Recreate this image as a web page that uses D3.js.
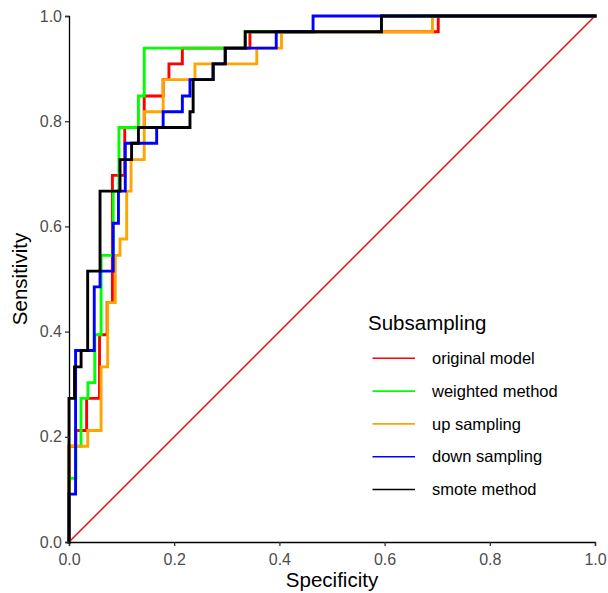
<!DOCTYPE html>
<html>
<head>
<meta charset="utf-8">
<script src="https://cdn.jsdelivr.net/npm/d3@7"></script>
<style>
  html, body { margin: 0; padding: 0; background: #fff; }
  svg { display: block; font-family: "Liberation Sans", Arial, sans-serif; }
  .tick-label { fill: #4d4d4d; font-size: 16px; }
  .axis-title { fill: #000; font-size: 20.5px; }
  .legend-title { fill: #000; font-size: 20.5px; }
  .legend-label { fill: #000; font-size: 16.5px; }
</style>
</head>
<body>
<svg id="chart" width="608" height="593"></svg>
<script>
  // ROC steps: specificity axis (x) and sensitivity (y)
  const seriesNames = ["original model", "weighted method", "up sampling", "down sampling", "smote method"];
  const seriesColors = ["#ff0000", "#00ff00", "#ffa500", "#0000ff", "#000000"];

  const originalSpec = [0, 0, 0.013, 0.0335, 0.058, 0.0725, 0.0825, 0.106, 0.143, 0.179, 0.19, 0.2155, 0.344, 0.702, 1];
  const originalSens = [0, 0.182, 0.212, 0.273, 0.394, 0.455, 0.697, 0.788, 0.848, 0.879, 0.909, 0.939, 0.970, 1, 1];

  const weightedSpec = [0, 0, 0.013, 0.0228, 0.036, 0.049, 0.061, 0.084, 0.095, 0.132, 0.143, 0.335, 0.594, 1];
  const weightedSens = [0, 0.121, 0.182, 0.273, 0.303, 0.394, 0.545, 0.667, 0.788, 0.848, 0.939, 0.970, 1, 1];

  const upSpec = [0, 0, 0.0356, 0.061, 0.0735, 0.088, 0.097, 0.1097, 0.118, 0.143, 0.179, 0.2395, 0.357, 0.404, 0.691, 1];
  const upSens = [0, 0.182, 0.212, 0.333, 0.455, 0.545, 0.576, 0.667, 0.727, 0.818, 0.879, 0.909, 0.939, 0.970, 1, 1];

  const downSpec = [0, 0, 0.0125, 0.048, 0.059, 0.084, 0.094, 0.107, 0.1667, 0.179, 0.2155, 0.23, 0.274, 0.297, 0.394, 0.464, 1];
  const downSens = [0, 0.091, 0.364, 0.485, 0.515, 0.606, 0.667, 0.758, 0.788, 0.818, 0.848, 0.879, 0.909, 0.939, 0.970, 1, 1];

  const smoteSpec = [0, 0, 0.0105, 0.023, 0.0355, 0.059, 0.097, 0.119, 0.132, 0.230, 0.236, 0.274, 0.297, 0.335, 0.594, 1];
  const smoteSens = [0, 0.273, 0.333, 0.364, 0.515, 0.667, 0.727, 0.758, 0.788, 0.818, 0.879, 0.909, 0.939, 0.970, 1, 1];

  const tickValues = [0, 0.2, 0.4, 0.6, 0.8, 1.0];

  const specs = [originalSpec, weightedSpec, upSpec, downSpec, smoteSpec];
  const senss = [originalSens, weightedSens, upSens, downSens, smoteSens];

  const svg = d3.select("#chart");
  const x = d3.scaleLinear().domain([0, 1]).range([69, 595]);
  const y = d3.scaleLinear().domain([0, 1]).range([542, 16]);

  // reference diagonal
  svg.append("line")
    .attr("x1", x(0)).attr("y1", y(0))
    .attr("x2", x(1)).attr("y2", y(1))
    .attr("stroke", "#ff0000")
    .attr("stroke-width", 1.4);

  const line = d3.line()
    .x((d) => x(d[0]))
    .y((d) => y(d[1]))
    .curve(d3.curveStepAfter);

  const curves = seriesNames.map((name, i) => ({
    name,
    color: seriesColors[i],
    points: specs[i].map((s, j) => [s, senss[i][j]])
  }));

  svg.append("g")
    .selectAll("path")
    .data(curves)
    .join("path")
    .attr("d", (d) => line(d.points))
    .attr("fill", "none")
    .attr("stroke", (d) => d.color)
    .attr("stroke-width", 2.9)
    .attr("stroke-linejoin", "miter")
    .attr("stroke-linecap", "square");

  // axes
  const xAxis = svg.append("g")
    .attr("transform", `translate(0,${y(0)})`)
    .call(d3.axisBottom(x).tickValues(tickValues).tickFormat(d3.format(".1f")).tickSizeOuter(0).tickSize(4).tickPadding(4));
  const yAxis = svg.append("g")
    .attr("transform", `translate(${x(0)},0)`)
    .call(d3.axisLeft(y).tickValues(tickValues).tickFormat(d3.format(".1f")).tickSizeOuter(0).tickSize(4).tickPadding(3));

  [xAxis, yAxis].forEach((ax) => {
    ax.attr("font-family", null).attr("font-size", null);
    ax.select(".domain").attr("stroke", "#000").attr("stroke-width", 1.3);
    ax.selectAll(".tick line").attr("stroke", "#333").attr("stroke-width", 1.3);
    ax.selectAll(".tick text").attr("class", "tick-label").attr("fill", null);
  });
  xAxis.selectAll(".tick text").attr("dy", "0.95em");

  svg.append("text")
    .attr("class", "axis-title")
    .attr("x", (x(0) + x(1)) / 2)
    .attr("y", 587)
    .attr("text-anchor", "middle")
    .text("Specificity");

  svg.append("text")
    .attr("class", "axis-title")
    .attr("transform", `translate(27,${(y(0) + y(1)) / 2}) rotate(-90)`)
    .attr("text-anchor", "middle")
    .text("Sensitivity");

  // legend
  const legend = svg.append("g").attr("transform", "translate(368,0)");
  legend.append("text")
    .attr("class", "legend-title")
    .attr("x", 0)
    .attr("y", 330)
    .text("Subsampling");

  const item = legend.selectAll("g.item")
    .data(curves)
    .join("g")
    .attr("class", "item")
    .attr("transform", (d, i) => `translate(0,${358.3 + i * 32.8})`);

  item.append("line")
    .attr("x1", 4.5).attr("x2", 47)
    .attr("stroke", (d) => d.color)
    .attr("stroke-width", 1.6);

  item.append("text")
    .attr("class", "legend-label")
    .attr("x", 64)
    .attr("dy", "0.35em")
    .text((d) => d.name);
</script>
</body>
</html>
